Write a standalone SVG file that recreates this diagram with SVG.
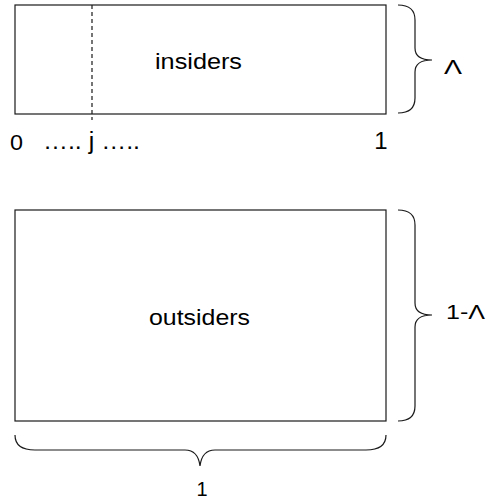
<svg xmlns="http://www.w3.org/2000/svg" width="487" height="503" viewBox="0 0 487 503">
<style>
.box{fill:#fff;stroke:#1a1a1a;stroke-width:1.2}
.brace{fill:none;stroke:#1a1a1a;stroke-width:1.2}
.dash{stroke:#1a1a1a;stroke-width:1.2;stroke-dasharray:4 3}
text{font-family:"Liberation Sans",Arial,sans-serif;fill:#000}
</style>
<rect width="487" height="503" fill="#fff"/>
<g id="insiders">
<rect class="box" x="15" y="5" width="371" height="109"/>
<line class="dash" x1="92" y1="5" x2="92" y2="120"/>
<text x="155" y="68.5" font-size="22" textLength="87" lengthAdjust="spacingAndGlyphs">insiders</text>
</g>
<g id="outsiders">
<rect class="box" x="15" y="210" width="371" height="211"/>
<text x="149" y="325" font-size="22" textLength="101" lengthAdjust="spacingAndGlyphs">outsiders</text>
</g>
<g id="axis-labels">
<text x="10" y="150" font-size="22" textLength="13" lengthAdjust="spacingAndGlyphs">0</text>
<text x="43" y="149" font-size="23" textLength="97" lengthAdjust="spacingAndGlyphs">….. j …..</text>
<text x="381" y="149" font-size="24" text-anchor="middle">1</text>
</g>
<g id="connectors">
<path class="brace" d="M398,5 Q415,5 415,20 L415,48 Q415,60 432,60 Q415,60 415,72 L415,98 Q415,113 398,113"/>
<path class="brace" d="M398,210 Q415,210 415,225 L415,303 Q415,315 432,315 Q415,315 415,327 L415,406 Q415,421 398,421"/>
<path class="brace" d="M15,435 Q15,450 35,450 L185,450 Q198,450 200,466 Q202,450 215,450 L366,450 Q386,450 386,435"/>
</g>
<g id="brace-labels">
<text x="444" y="74" font-size="21" textLength="18" lengthAdjust="spacingAndGlyphs">Λ</text>
<text x="446" y="319" font-size="20" textLength="39" lengthAdjust="spacingAndGlyphs">1-Λ</text>
<text x="202" y="495.5" font-size="20" text-anchor="middle">1</text>
</g>
</svg>
